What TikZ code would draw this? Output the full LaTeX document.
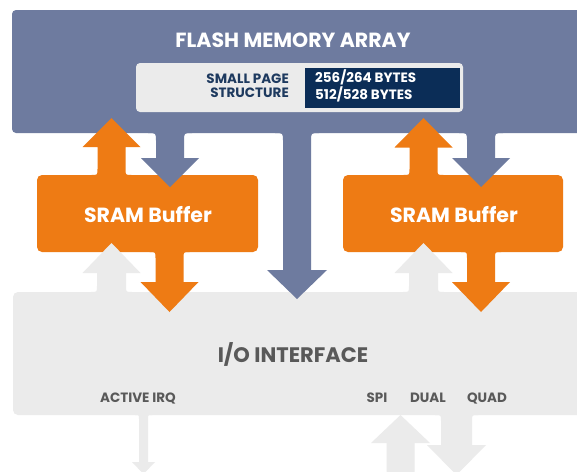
\documentclass[tikz,border=0pt]{standalone}
\usepackage{fontspec}
\setmainfont{Poppins}
\definecolor{flashblue}{HTML}{6E7B9F}
\definecolor{sramorange}{HTML}{EE7B14}
\definecolor{iogrey}{HTML}{EBEBEB}
\definecolor{navy}{HTML}{0B2D57}
\definecolor{labelgrey}{HTML}{595959}
\definecolor{navytext}{HTML}{1E3A5F}
% block arrow: colour, cx, base y, shaft half width, head half width, head base y, tip y, fillet r, direction (1 down, -1 up)
\newcommand\blockarrow[9]{%
  \fill[#1] ({#2-#4-#8},{#3-(#9)*3}) -- ({#2-#4-#8},{#3})
    .. controls ({#2-#4},{#3}) .. ({#2-#4},{#3+(#9)*#8})
    -- ({#2-#4},{#6}) -- ({#2-#5},{#6}) -- ({#2},{#7}) -- ({#2+#5},{#6}) -- ({#2+#4},{#6})
    -- ({#2+#4},{#3+(#9)*#8})
    .. controls ({#2+#4},{#3}) .. ({#2+#4+#8},{#3})
    -- ({#2+#4+#8},{#3-(#9)*3}) -- cycle;}
\tikzset{
  titletext/.style={font=\bfseries\fontsize{20.5}{22}\selectfont, text=white, inner sep=0pt},
  smalltext/.style={font=\bfseries\fontsize{13.5}{14}\selectfont, inner sep=0pt},
  iolabel/.style={font=\bfseries\fontsize{13.5}{14}\selectfont, text=labelgrey, inner sep=0pt},
}
\begin{document}
\begin{tikzpicture}[x=1pt,y=-1pt]
\useasboundingbox (0,0) rectangle (577,471);
\fill[white] (0,0) rectangle (577,471);
\clip (0,0) rectangle (577,471);
% I/O interface box
\fill[iogrey, rounded corners=5] (13,292) rectangle (600,415);
% SRAM buffer boxes
\fill[sramorange, rounded corners=5] (37,175) rectangle (258,252);
\fill[sramorange, rounded corners=5] (343,175) rectangle (563,252);
% grey arrows I/O -> SRAM
\blockarrow{iogrey}{111.5}{292}{14.5}{29}{273}{243}{6}{-1}
\blockarrow{iogrey}{423.5}{292}{14.5}{29}{273}{243}{6}{-1}
% orange arrows SRAM -> I/O
\blockarrow{sramorange}{169.5}{252}{14}{29}{282}{312}{6}{1}
\blockarrow{sramorange}{481}{252}{14}{29}{282}{312}{6}{1}
% flash memory array
\fill[flashblue, rounded corners=4] (12,10) rectangle (600,133);
% orange arrows SRAM -> flash
\blockarrow{sramorange}{111.5}{175}{14}{29}{147}{118}{6}{-1}
\blockarrow{sramorange}{423.5}{175}{14}{29}{147.5}{118}{6}{-1}
% blue arrows flash -> SRAM / I/O
\blockarrow{flashblue}{170}{133}{14}{29}{158}{187}{8}{1}
\blockarrow{flashblue}{481}{133}{14}{29}{158}{187}{8}{1}
\blockarrow{flashblue}{297}{133}{14}{30}{270}{299}{8}{1}
% external arrows
\blockarrow{iogrey}{143.5}{415}{4.5}{11.5}{462}{474}{4}{1}
\blockarrow{iogrey}{400.5}{490}{14}{29.5}{443}{415}{0}{-1}
\blockarrow{iogrey}{456.5}{415}{15.5}{29.5}{445}{475}{6}{1}
% page structure box
\fill[iogrey, rounded corners=4] (136,63) rectangle (463,112);
\fill[navy] (305,68) rectangle (460,108);
% texts
\node[titletext] (flash) at (293,40) {FLASH MEMORY ARRAY};
\node[smalltext, text=navytext, align=right, anchor=east] (page) at (289,86) {SMALL PAGE\\STRUCTURE};
\node[smalltext, text=white, align=left, anchor=west] (bytes) at (315,86) {256/264 BYTES\\512/528 BYTES};
\node[titletext] (sramL) at (148,215) {SRAM Buffer};
\node[titletext] (sramR) at (454,215) {SRAM Buffer};
\node[font=\bfseries\fontsize{21}{24}\selectfont, text=labelgrey, inner sep=0pt] (io) at (293,354) {I/O INTERFACE};
\node[iolabel] (irq) at (138,398) {ACTIVE IRQ};
\node[iolabel] (spi) at (377,398) {SPI};
\node[iolabel] (dual) at (428,398) {DUAL};
\node[iolabel] (quad) at (487,398) {QUAD};
\end{tikzpicture}
\end{document}
